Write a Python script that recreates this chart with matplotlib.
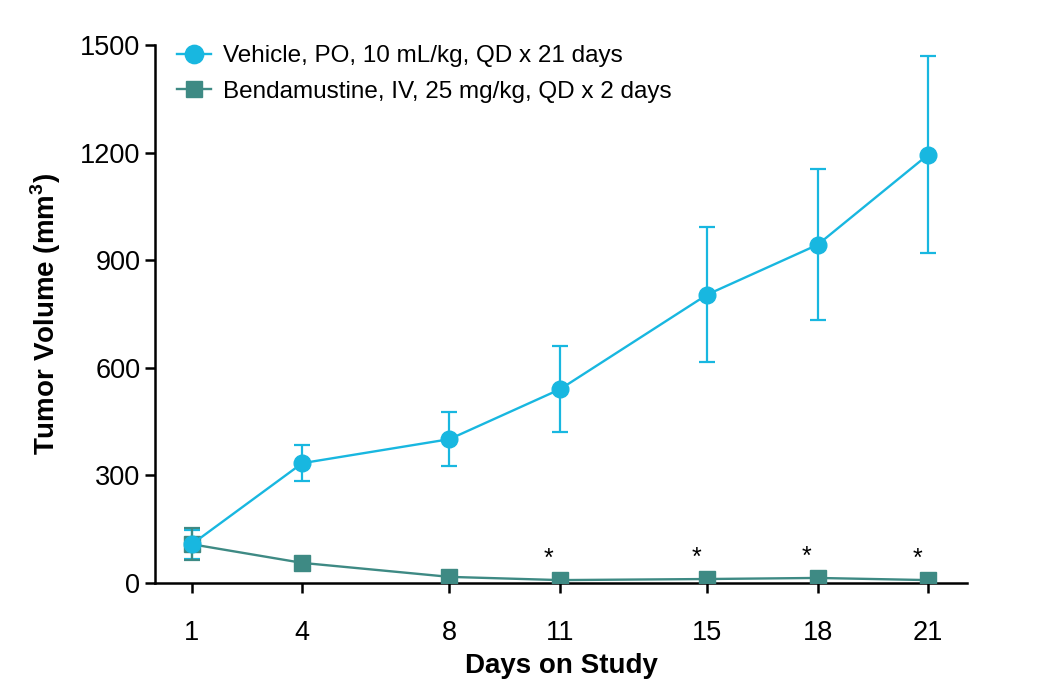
import numpy as np
import matplotlib.pyplot as plt

plt.rcParams['font.family'] = ['Liberation Sans', 'DejaVu Sans']

days = [1, 4, 8, 11, 15, 18, 21]
vehicle = [108, 334, 401, 540, 804, 943, 1194]
vehicle_err = [40, 50, 75, 120, 188, 210, 275]
benda = [108, 56, 17, 8, 11, 14, 8]
benda_err = [45, 0, 0, 0, 0, 0, 0]
star_days = [11, 15, 18, 21]

cyan = '#18B7E0'
teal = '#3E8A84'

fig = plt.figure(figsize=(10.5, 6.99), dpi=100)
ax = fig.add_axes([0.1476, 0.166, 0.7734, 0.7696])

# vehicle error bars underneath
ax.errorbar(days, vehicle, yerr=vehicle_err, fmt='none', ecolor=cyan,
            elinewidth=1.6, capsize=5.5, capthick=1.6, zorder=2)
ax.errorbar(days, benda, yerr=benda_err, fmt='none', ecolor=teal,
            elinewidth=1.6, capsize=5.5, capthick=1.6, zorder=3)
ax.plot(days, benda, color=teal, lw=1.7, marker='s', ms=11,
        label='Bendamustine, IV, 25 mg/kg, QD x 2 days', zorder=3)
ax.plot(days, vehicle, color=cyan, lw=1.7, marker='o', ms=12,
        label='Vehicle, PO, 10 mL/kg, QD x 21 days', zorder=4)

for d in star_days:
    i = days.index(d)
    ax.text(d - 0.3, benda[i] + 25, '*', ha='center', va='bottom', fontsize=18)

ax.set_xlim(0, 22.06)
ax.set_ylim(0, 1500)
ax.set_xticks(days)
ax.set_yticks([0, 300, 600, 900, 1200, 1500])
ax.spines['top'].set_visible(False)
ax.spines['right'].set_visible(False)
ax.spines['left'].set_linewidth(1.8)
ax.spines['bottom'].set_linewidth(1.8)
ax.tick_params(axis='both', width=1.8, length=7, labelsize=19.5, direction='out')
ax.tick_params(axis='x', pad=20)
ax.set_xlabel('Days on Study', fontsize=20, fontweight='bold', labelpad=5)
ax.set_ylabel('Tumor Volume (mm$^\\mathregular{3}$)', fontsize=20, fontweight='bold', labelpad=12)

h, l = ax.get_legend_handles_labels()
ax.legend(h[::-1], l[::-1], loc='upper left', bbox_to_anchor=(0.0, 1.04), frameon=False,
          fontsize=17.5, handlelength=1.4, handletextpad=0.5, labelspacing=0.55,
          numpoints=1, markerscale=1.1)

fig.savefig('out.png', dpi=100)
